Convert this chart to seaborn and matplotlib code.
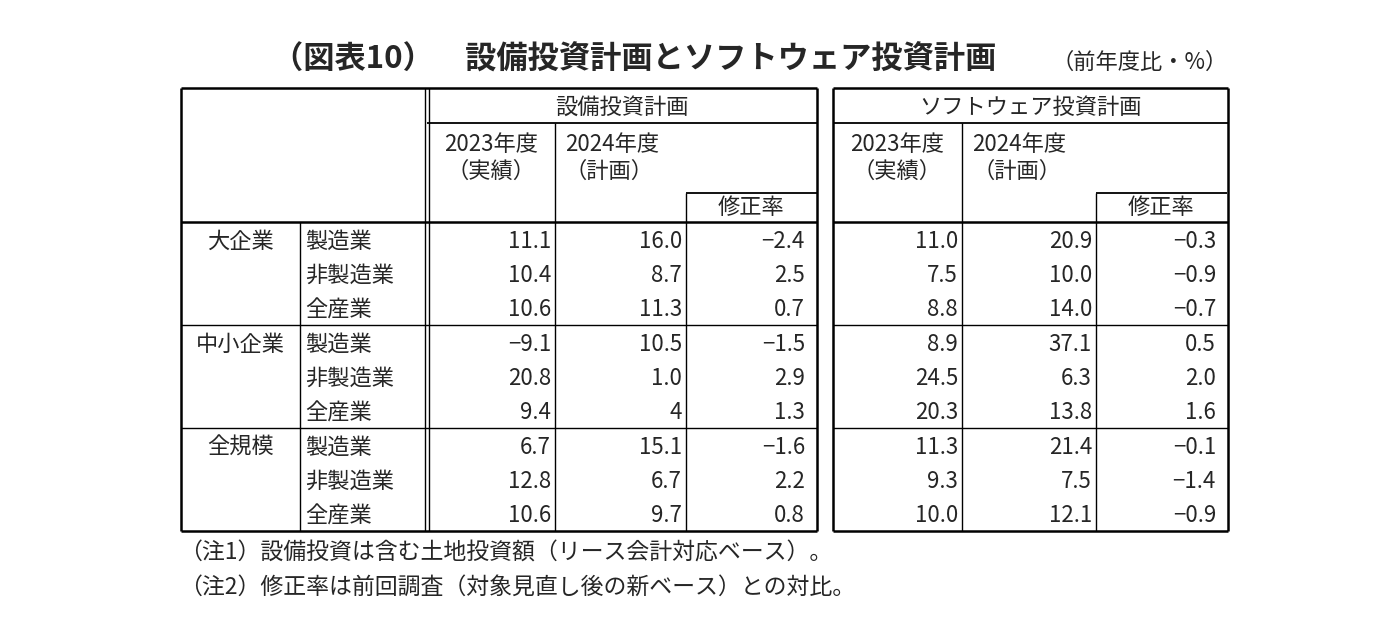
import matplotlib
matplotlib.use("Agg")
import matplotlib.pyplot as plt
import seaborn as sns

sns.set_theme(style="white")
plt.rcParams["font.family"] = "Noto Sans CJK JP"

GROUPS = ["大企業", "中小企業", "全規模"]
SECTORS = ["製造業", "非製造業", "全産業"]
CAPEX_2023 = ["11.1", "10.4", "10.6", "−9.1", "20.8", "9.4", "6.7", "12.8", "10.6"]
CAPEX_2024 = ["16.0", "8.7", "11.3", "10.5", "1.0", "4", "15.1", "6.7", "9.7"]
CAPEX_REV = ["−2.4", "2.5", "0.7", "−1.5", "2.9", "1.3", "−1.6", "2.2", "0.8"]
SOFT_2023 = ["11.0", "7.5", "8.8", "8.9", "24.5", "20.3", "11.3", "9.3", "10.0"]
SOFT_2024 = ["20.9", "10.0", "14.0", "37.1", "6.3", "13.8", "21.4", "7.5", "12.1"]
SOFT_REV = ["−0.3", "−0.9", "−0.7", "0.5", "2.0", "1.6", "−0.1", "−1.4", "−0.9"]
NOTES = ["（注1）設備投資は含む土地投資額（リース会計対応ベース）。",
         "（注2）修正率は前回調査（対象見直し後の新ベース）との対比。"]

fig = plt.figure(figsize=(13.93, 6.4), dpi=100)
ax = fig.add_axes([0, 0, 1, 1])
ax.set_xlim(0, 1393)
ax.set_ylim(640, 0)
ax.axis("off")

fs = 16
ax.text(272, 60, "（図表10）　設備投資計画とソフトウェア投資計画", fontsize=22.5,
        fontweight="bold", va="center", ha="left")
ax.text(1228, 62, "（前年度比・%）", fontsize=16, va="center", ha="right")


def line(x0, y0, x1, y1, lw=1.0):
    ax.plot([x0, x1], [y0, y1], color="black", lw=lw, solid_capstyle="butt")


top, hdr, bot = 88, 222, 531
row_h = (bot - hdr) / 9
L = [181, 300, 427, 555, 686, 817]
R = [833, 962, 1096, 1228]
for x0, x1 in [(L[0], L[-1]), (R[0], R[-1])]:
    line(x0, top, x1, top, 1.8)
    line(x0, bot, x1, bot, 1.8)
    line(x0, top, x0, bot, 1.8)
    line(x1, top, x1, bot, 1.8)
    line(x0, hdr, x1, hdr, 1.8)

line(L[2] - 2, top, L[2] - 2, bot, 1.0)
line(L[2] + 2, top, L[2] + 2, bot, 1.0)
line(L[2], 123, L[-1], 123, 1.3)
line(R[0], 123, R[-1], 123, 1.3)
for xs in [L[3:5], R[1:3]]:
    line(xs[0], 123, xs[0], bot, 1.0)
    line(xs[1], 193, xs[1], bot, 1.0)
    line(xs[1], 193, xs[1] + 131, 193, 1.3)
line(L[1], hdr, L[1], bot, 1.0)
for g in (1, 2):
    y = hdr + 3 * g * row_h
    line(L[0], y, L[-1], y, 1.0)
    line(R[0], y, R[-1], y, 1.0)

ax.text((L[2] + L[-1]) / 2, 107, "設備投資計画", fontsize=fs, ha="center", va="center")
ax.text((R[0] + R[-1]) / 2, 107, "ソフトウェア投資計画", fontsize=fs, ha="center", va="center")
for x23, x24, xr in [(L[2], L[3], L[4]), (R[0], R[1], R[2])]:
    ax.text(x23 + 64, 158, "2023年度\n（実績）", fontsize=fs, ha="center", va="center",
            linespacing=1.2)
    ax.text(x24 + 10, 158, "2024年度\n（計画）", fontsize=fs, ha="left", va="center",
            linespacing=1.2)
    ax.text(xr + 65, 208, "修正率", fontsize=fs, ha="center", va="center")

for i in range(9):
    y = hdr + (i + 0.5) * row_h + 2
    if i % 3 == 0:
        ax.text((L[0] + L[1]) / 2, y, GROUPS[i // 3], fontsize=fs, ha="center", va="center")
    ax.text(L[1] + 5, y, SECTORS[i % 3], fontsize=fs, ha="left", va="center")
    for x, vals in [(L[3] - 4, CAPEX_2023), (L[4] - 4, CAPEX_2024), (L[5] - 12, CAPEX_REV),
                    (R[1] - 4, SOFT_2023), (R[2] - 4, SOFT_2024), (R[3] - 12, SOFT_REV)]:
        ax.text(x, y, vals[i], fontsize=fs, ha="right", va="center")

for k, note in enumerate(NOTES):
    ax.text(179, 553 + k * 34, note, fontsize=16.5, ha="left", va="center")

fig.savefig("out.png", dpi=100, facecolor="white")
